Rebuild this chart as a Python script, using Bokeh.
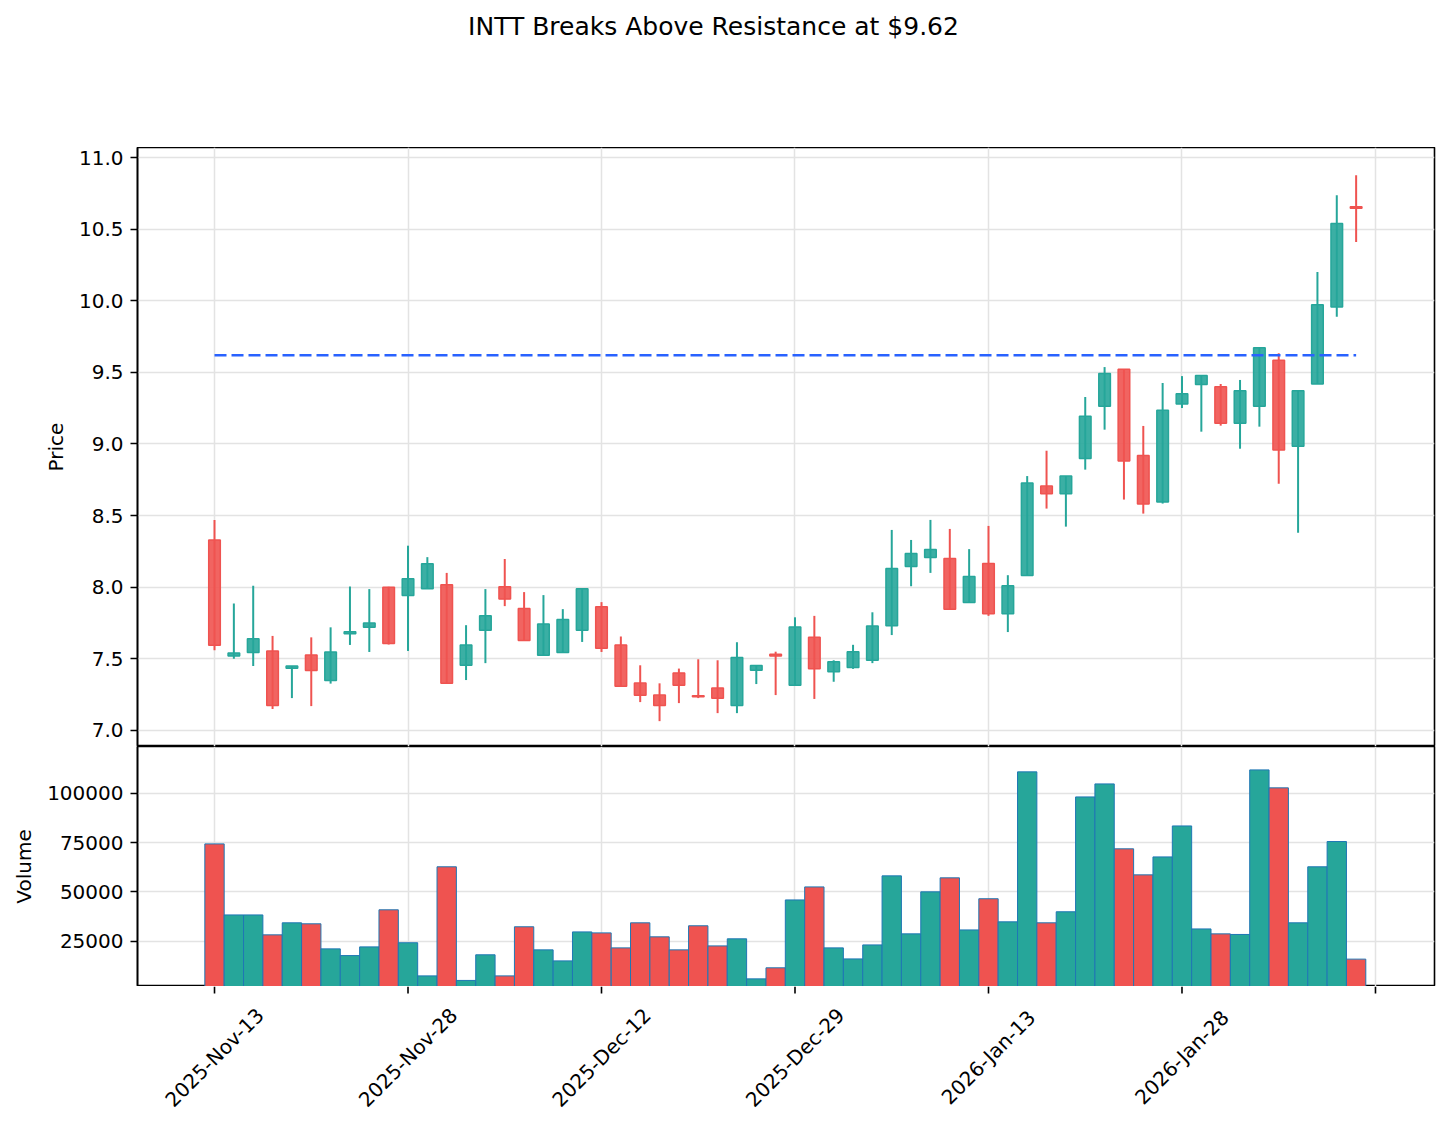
import math
from bokeh.plotting import figure
from bokeh.layouts import column
from bokeh.models import Range1d, FixedTicker, Grid, NumeralTickFormatter, Label
from bokeh.core.properties import value
from bokeh.embed import file_html
from bokeh.resources import INLINE

# ---------------- data ----------------
title_text = "INTT Breaks Above Resistance at $9.62"
resistance = 9.62

tick_index = [0, 10, 20, 30, 40, 50, 60]
tick_labels = ["2025-Nov-13", "2025-Nov-28", "2025-Dec-12", "2025-Dec-29",
               "2026-Jan-13", "2026-Jan-28", ""]

opens = [8.33, 7.52, 7.545, 7.555, 7.435, 7.527, 7.348, 7.675, 7.72, 8.00,
         7.943, 7.99, 8.017, 7.455, 7.70, 8.003, 7.852, 7.525, 7.544, 7.70,
         7.863, 7.597, 7.331, 7.247, 7.402, 7.243, 7.296, 7.175, 7.42, 7.532,
         7.315, 7.65, 7.41, 7.44, 7.49, 7.731, 8.145, 8.208, 8.201, 7.893,
         8.166, 7.815, 8.082, 8.706, 8.652, 8.898, 9.263, 9.521, 8.919, 8.595,
         9.279, 9.416, 9.40, 9.144, 9.263, 9.584, 8.984, 9.419, 9.956, 10.656]
closes = [7.595, 7.54, 7.64, 7.175, 7.45, 7.418, 7.548, 7.69, 7.75, 7.607,
          8.06, 8.164, 7.33, 7.597, 7.80, 7.917, 7.628, 7.744, 7.775, 7.99,
          7.574, 7.308, 7.245, 7.175, 7.315, 7.235, 7.224, 7.509, 7.453, 7.52,
          7.723, 7.43, 7.48, 7.55, 7.729, 8.131, 8.236, 8.264, 7.846, 8.075,
          7.815, 8.01, 8.727, 8.652, 8.776, 9.193, 9.493, 8.881, 8.581, 9.235,
          9.351, 9.479, 9.144, 9.372, 9.672, 8.958, 9.372, 9.972, 10.54, 10.645]
highs = [8.47, 7.886, 8.01, 7.66, 7.45, 7.65, 7.72, 8.005, 7.987, 8.003,
         8.29, 8.21, 8.10, 7.735, 7.987, 8.197, 7.966, 7.945, 7.847, 7.99,
         7.896, 7.656, 7.455, 7.329, 7.432, 7.497, 7.49, 7.616, 7.453, 7.55,
         7.79, 7.80, 7.49, 7.598, 7.825, 8.40, 8.33, 8.47, 8.407, 8.266,
         8.428, 8.084, 8.776, 8.953, 8.776, 9.328, 9.537, 9.521, 9.126, 9.426,
         9.474, 9.479, 9.419, 9.447, 9.672, 9.633, 9.372, 10.20, 10.737, 10.877]
lows = [7.56, 7.50, 7.45, 7.15, 7.226, 7.17, 7.327, 7.597, 7.548, 7.60,
        7.555, 7.99, 7.329, 7.352, 7.47, 7.868, 7.628, 7.525, 7.544, 7.618,
        7.548, 7.308, 7.198, 7.065, 7.191, 7.226, 7.121, 7.121, 7.324, 7.247,
        7.315, 7.22, 7.34, 7.43, 7.47, 7.666, 8.007, 8.10, 7.846, 7.893,
        7.80, 7.687, 8.082, 8.549, 8.423, 8.821, 9.10, 8.612, 8.514, 8.584,
        9.251, 9.086, 9.128, 8.967, 9.121, 8.723, 8.381, 9.419, 9.888, 10.41]
volumes = [74300, 38300, 38300, 28200, 34300, 33800, 21100, 17700, 22100, 40900,
           24200, 7400, 62700, 5100, 18100, 7400, 32300, 20600, 15000, 29700,
           29200, 21600, 34300, 27200, 20600, 32800, 22600, 26200, 5900, 11500,
           45900, 52500, 21600, 16000, 23100, 58100, 28700, 50000, 57100, 30700,
           46500, 34800, 110800, 34300, 39900, 98100, 104700, 71800, 58600, 67700,
           83400, 31200, 28700, 28400, 111800, 102700, 34300, 62700, 75500, 15900]

price_ticks = [7.0, 7.5, 8.0, 8.5, 9.0, 9.5, 10.0, 10.5, 11.0]
volume_ticks = [25000, 50000, 75000, 100000]

# ---------------- styling ----------------
FONT = "DejaVu Sans"
UP = "#26a69a"
DOWN = "#ef5350"
GRID = "#e3e3e3"
W = 1448
LEFT = 137
RIGHT = 14
TH = 147      # title strip height
PH = 599      # price panel height
VH = 240      # volume panel height
LH = 1126 - TH - PH - VH   # date-label strip height

idx = list(range(len(opens)))
colors = [UP if c >= o else DOWN for o, c in zip(opens, closes)]
body_top = [max(o, c) for o, c in zip(opens, closes)]
body_bot = [min(o, c) for o, c in zip(opens, closes)]

xr = Range1d(-3.98, 63.05)


def base_fig(height, x_range, y_range, outline=True):
    p = figure(width=W, height=height, x_range=x_range, y_range=y_range,
               toolbar_location=None, output_backend="svg",
               min_border_left=LEFT, min_border_right=RIGHT,
               min_border_top=0, min_border_bottom=0,
               x_axis_location=None,
               y_axis_location="left" if outline else None,
               outline_line_color="black" if outline else None,
               outline_line_width=1.6)
    p.xgrid.visible = False
    if not outline:
        p.grid.visible = False
    return p


def style_y(p, ticks, label):
    ax = p.yaxis[0]
    ax.ticker = FixedTicker(ticks=ticks)
    ax.axis_label = label
    ax.axis_label_text_font = FONT
    ax.axis_label_text_font_style = "normal"
    ax.axis_label_text_font_size = "20px"
    ax.axis_label_text_color = "black"
    ax.axis_label_standoff = 8
    ax.major_label_text_font = FONT
    ax.major_label_text_font_size = "20px"
    ax.major_label_text_color = "black"
    ax.major_label_standoff = 7
    ax.major_tick_out = 7
    ax.major_tick_in = 0
    ax.minor_tick_out = 0
    ax.minor_tick_in = 0
    ax.axis_line_color = "black"
    ax.axis_line_width = 1.6
    ax.major_tick_line_width = 1.6
    p.ygrid.grid_line_color = GRID
    p.ygrid.grid_line_width = 1.5
    p.ygrid.ticker = FixedTicker(ticks=ticks)
    p.add_layout(Grid(dimension=0, ticker=FixedTicker(ticks=tick_index),
                      grid_line_color=GRID, grid_line_width=1.5))


# ---------------- title ----------------
pt = base_fig(TH, Range1d(LEFT, W - RIGHT), Range1d(0, TH), outline=False)
pt.add_layout(Label(x=713, y=TH - 26, text=title_text, text_font=FONT,
                    text_font_size="25px", text_align="center",
                    text_baseline="alphabetic", text_color="black"))

# ---------------- price panel ----------------
pp = base_fig(PH, xr, Range1d(6.888, 11.07))
style_y(pp, price_ticks, "Price")
pp.yaxis[0].formatter = NumeralTickFormatter(format="0.0")

pp.segment(x0=idx, y0=lows, x1=idx, y1=highs, line_color=colors, line_width=2)
pp.vbar(x=idx, width=0.6, top=body_top, bottom=body_bot, fill_color=colors,
        fill_alpha=0.9, line_color=colors, line_width=1.5)
pp.line(x=[idx[0], idx[-1]], y=[resistance, resistance], line_color="#2962ff",
        line_width=2.5, line_dash="12 5")

# ---------------- volume panel ----------------
pv = base_fig(VH, xr, Range1d(2027, 123660))
style_y(pv, volume_ticks, "Volume")
pv.yaxis[0].formatter = NumeralTickFormatter(format="0")
pv.vbar(x=idx, width=1.0, top=volumes, bottom=0, fill_color=colors,
        line_color="#1f77b4", line_width=1)

# ---------------- x ticks and rotated date labels ----------------
pl = base_fig(LH, xr, Range1d(0, LH), outline=False)
pl.segment(x0=tick_index, y0=[LH] * len(tick_index), x1=tick_index,
           y1=[LH - 7] * len(tick_index), line_color="black", line_width=1.6)
for t, l in zip(tick_index, tick_labels):
    if l:
        pl.add_layout(Label(x=t, y=LH - 71, text=l, angle=math.pi / 4,
                            text_font=FONT, text_font_size="20px",
                            text_align="center", text_baseline="middle",
                            text_color="black"))

layout = column(pt, pp, pv, pl, spacing=0)
open("out.html", "w").write(file_html(layout, INLINE))
